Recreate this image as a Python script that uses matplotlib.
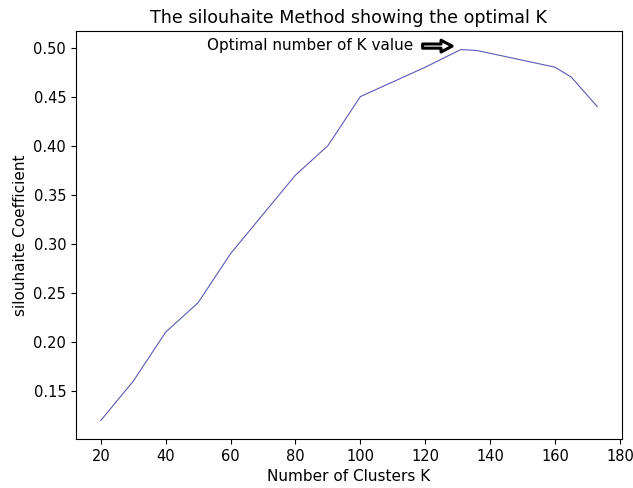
import matplotlib
matplotlib.use("Agg")
import matplotlib.pyplot as plt

k_values = [20, 30, 40, 50, 60, 70, 80, 90, 100, 120, 131, 136, 160, 165, 173]
silhouette = [0.12, 0.16, 0.21, 0.24, 0.29, 0.33, 0.37, 0.40, 0.45, 0.48,
              0.498, 0.497, 0.48, 0.47, 0.44]
x_ticks = [20, 40, 60, 80, 100, 120, 140, 160, 180]
y_ticks = [0.15, 0.20, 0.25, 0.30, 0.35, 0.40, 0.45, 0.50]

fig = plt.figure(figsize=(6.33, 4.88), dpi=100)
ax = fig.add_axes([0.120, 0.1004, 0.8626, 0.8361])
ax.plot(k_values, silhouette, color="#5a5ab8", linewidth=0.8)
ax.set_xticks(x_ticks)
ax.set_yticks(y_ticks)
ax.tick_params(labelsize=10.5)
ax.set_xlabel("Number of Clusters K", fontsize=11)
ax.set_ylabel("silouhaite Coefficient", fontsize=11)
ax.set_title("The silouhaite Method showing the optimal K", fontsize=12.6)
ax.text(52.6, 0.4976, "Optimal number of K value", fontsize=11)
ax.annotate("", xy=(128.3, 0.5015), xytext=(119.2, 0.5015),
            arrowprops=dict(facecolor="white", edgecolor="black", linewidth=2.2,
                            width=3, headwidth=8.5, headlength=8, shrink=0))
fig.savefig("out.png", dpi=100)
